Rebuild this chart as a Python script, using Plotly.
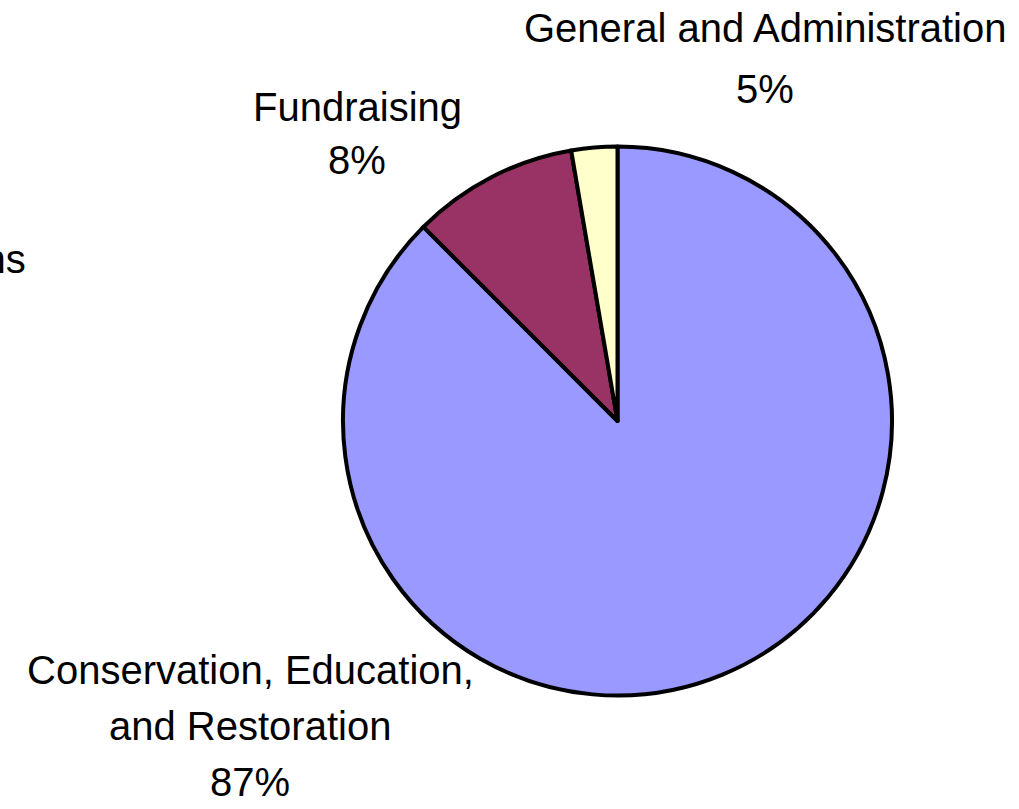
import plotly.graph_objects as go

# ---- data ----
categories = ["Conservation, Education,<br>and Restoration", "Fundraising", "General and Administration"]
values = [87.5, 9.8, 2.7]            # slice sizes as drawn
pct_labels = ["87%", "8%", "5%"]     # percentages printed on the labels
colors = ["#9999FF", "#993366", "#FFFFCC"]
partial_label = "Operations"          # label cut off at the left edge (only "ns" visible)

W, H = 1019, 809

fig = go.Figure(go.Pie(
    labels=[c.replace("<br>", " ") for c in categories],
    values=values,
    sort=False,
    direction="clockwise",
    rotation=0,
    marker=dict(colors=colors, line=dict(color="black", width=4)),
    textinfo="none",
    hoverinfo="label+percent",
    showlegend=False,
    domain=dict(x=[343 / W, 892 / W], y=[1 - 695.5 / H, 1 - 146.5 / H]),
))

# label layout: (x center px, list of line-center y px)
label_pos = [
    (250, [670, 726, 782]),
    (357, [107, 160]),
    (765, [28, 89]),
]

font = dict(family="Liberation Sans, Arial, sans-serif", size=40, color="black")
annotations = []
for cat, pct, (xc, ys) in zip(categories, pct_labels, label_pos):
    lines = cat.split("<br>") + [pct]
    for line, yc in zip(lines, ys):
        annotations.append(dict(
            text=line, x=xc / W, y=1 - yc / H, xref="paper", yref="paper",
            xanchor="center", yanchor="middle", showarrow=False, font=font,
        ))

annotations.append(dict(
    text=partial_label, x=28 / W, y=1 - 259 / H, xref="paper", yref="paper",
    xanchor="right", yanchor="middle", showarrow=False, font=font,
))

fig.update_layout(
    width=W, height=H,
    margin=dict(l=0, r=0, t=0, b=0),
    paper_bgcolor="white", plot_bgcolor="white",
    annotations=annotations,
)

fig.write_html("out.html", config={"displayModeBar": False},
               post_script="document.body.style.margin='0';")
